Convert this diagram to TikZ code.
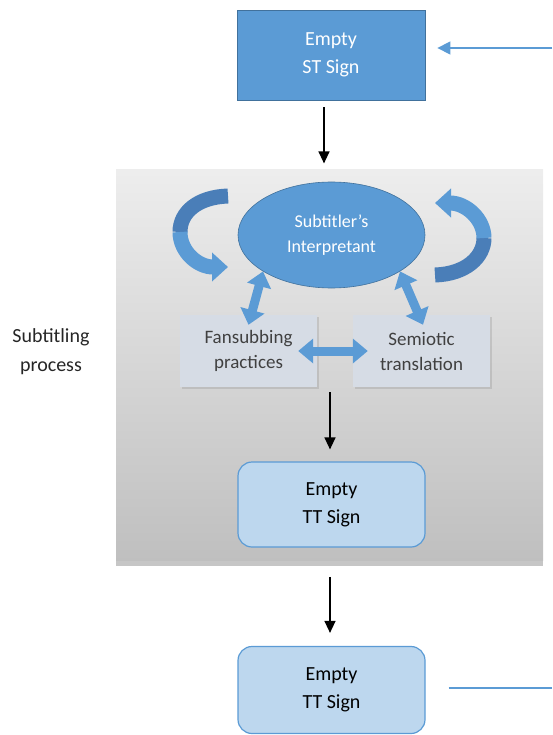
\documentclass[tikz,border=0pt]{standalone}
\usepackage{fontspec}
\setmainfont{Carlito}
\usetikzlibrary{arrows.meta,positioning,shadows,shapes.geometric}
\definecolor{signblue}{HTML}{5B9BD5}
\definecolor{edgeblue}{HTML}{41719C}
\definecolor{ribbondark}{HTML}{4A7EB8}
\definecolor{paleblue}{HTML}{BDD7EE}
\definecolor{slate}{HTML}{D6DCE5}
\definecolor{inkgray}{HTML}{404040}

\tikzset{
  stbox/.style={rectangle,fill=signblue,draw=edgeblue,line width=0.8pt,inner sep=0pt,
    minimum width=188pt,minimum height=90pt,text=white,align=center,font=\fontsize{20}{28}\selectfont},
  ttbox/.style={rectangle,rounded corners=14pt,fill=paleblue,draw=signblue,line width=1.2pt,inner sep=0pt,
    minimum width=187pt,text=black,align=center,font=\fontsize{20}{28}\selectfont},
  practice/.style={rectangle,fill=slate,inner sep=0pt,minimum width=137pt,minimum height=72pt,
    text=inkgray,align=center,font=\fontsize{19}{25}\selectfont,
    drop shadow={shadow xshift=1.5pt,shadow yshift=-1.5pt,opacity=0.25}},
  flow/.style={line width=1.3pt,black,-{Triangle[width=11pt,length=12pt]}},
  feed/.style={line width=1.4pt,signblue},
  dbl/.style={line width=9pt,signblue,{Triangle[width=24pt,length=15pt]}-{Triangle[width=24pt,length=15pt]}},
  ribbon/.style={line width=15pt,signblue},
}

\begin{document}
\begin{tikzpicture}[x=1pt,y=-1pt]
\useasboundingbox (0,0) rectangle (552,735);

% grey process panel
\node[rectangle,inner sep=0pt,minimum width=427pt,minimum height=390pt,
  top color=gray!14,bottom color=gray!50,
  drop shadow={shadow xshift=0pt,shadow yshift=-6pt,opacity=0.45}] (panel) at (329.5,365) {};
\node[font=\fontsize{20}{29}\selectfont,text=black!85,align=center] (proclabel) at (51,352) {Subtitling\\process};

% signs
\node[stbox] (st) at (331,55) {Empty\\ST Sign};
\node[ellipse,fill=signblue,draw=edgeblue,line width=0.6pt,inner sep=0pt,minimum width=187pt,minimum height=106pt,
  text=white,align=center,font=\fontsize{18}{25}\selectfont] (interp) at (331.5,235) {Subtitler's\\Interpretant};
\node[practice] (fansub) at (248.5,351) {Fansubbing\\practices};
\node[practice] (semio) at (421.5,351) {Semiotic\\translation};
\node[ttbox,minimum height=85pt] (ttin) at (331.5,504.5) {Empty\\TT Sign};
\node[ttbox,minimum height=87pt] (ttout) at (331.5,690) {Empty\\TT Sign};

% feedback loops round the interpretant
\coordinate (loopl) at (228,196);
\coordinate (loopr) at (435,275);
\draw[ribbon,ribbondark] (loopl) .. controls (198,197) and (180,212) .. (180,232);
\draw[ribbon,-{Triangle[width=28pt,length=16pt]}] (180,232) .. controls (180,252) and (198,267) .. (228,267);
\draw[ribbon,ribbondark] (loopr) .. controls (466,274) and (484,257) .. (484,238);
\draw[ribbon,-{Triangle[width=28pt,length=16pt]}] (484,238) .. controls (484,219) and (466,203) .. (435,203);

% links between interpretant and practices
\draw[dbl] (interp.208) -- ([yshift=-10pt]fansub.north);
\draw[dbl] (interp.332) -- ([xshift=1.5pt,yshift=-10pt]semio.north);
\draw[dbl] ([xshift=-19pt]fansub.east) -- ([xshift=15pt]semio.west);

% main flow
\draw[flow] ([xshift=-7pt,yshift=-7pt]st.south) -- ++(0,56);
\draw[flow] ([xshift=-1.5pt,yshift=69pt]ttin.north) -- ([xshift=-1.5pt,yshift=12pt]ttin.north);
\draw[flow] ([xshift=-1.5pt,yshift=69pt]ttout.north) -- ([xshift=-1.5pt,yshift=13pt]ttout.north);

% outside links
\coordinate (feedin) at (552,48);
\coordinate (feedout) at (552,688);
\draw[feed,-{Triangle[width=13pt,length=13pt]}] (feedin) -- ([xshift=12pt,yshift=7pt]st.east);
\draw[feed] ([xshift=23pt,yshift=2pt]ttout.east) -- (feedout);
\end{tikzpicture}
\end{document}
